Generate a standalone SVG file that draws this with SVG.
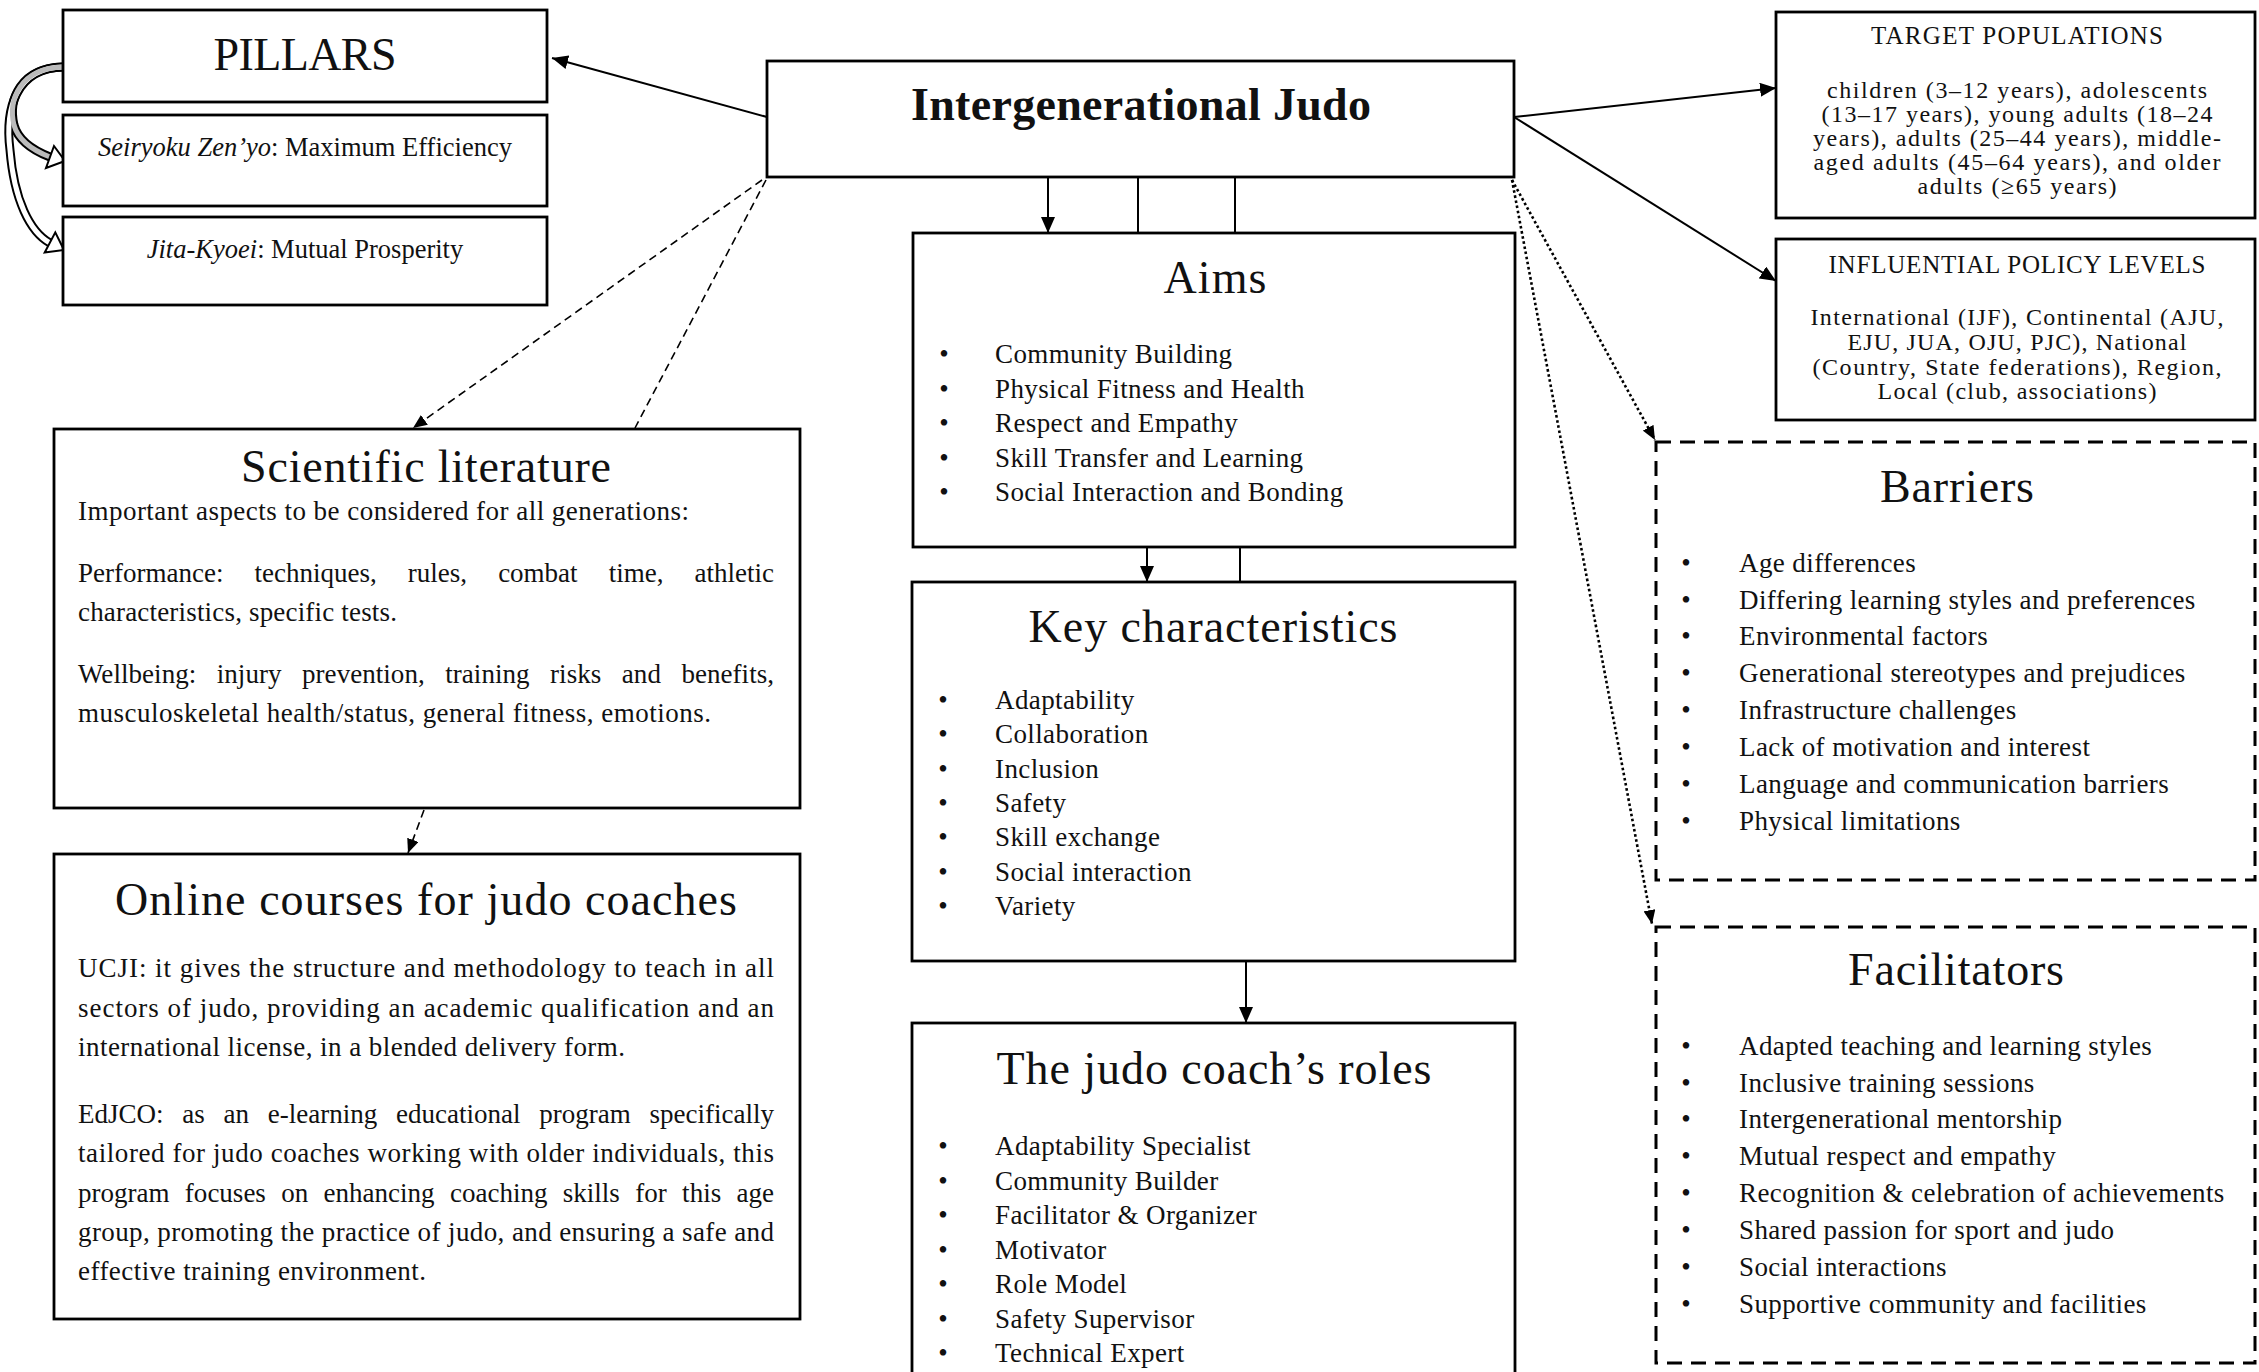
<svg xmlns="http://www.w3.org/2000/svg" width="2259" height="1372" viewBox="0 0 2259 1372">
<defs>
<style>
.box{fill:#fff;stroke:#000;stroke-width:2.8}
.dbox{fill:#fff;stroke:#000;stroke-width:3;stroke-dasharray:15 9}
text{font-family:"Liberation Serif","Times New Roman",serif;fill:#111}
.title{font-size:46px;text-anchor:middle}
.li{font-size:27px;letter-spacing:0.4px}
.bul{font-size:27px;text-anchor:middle}
.p{font-size:27px}
.hd{font-size:25px;text-anchor:middle}
.bd{font-size:24px;text-anchor:middle}
.sub{font-size:26.5px;text-anchor:middle}
.con{fill:none;stroke:#000;stroke-width:2}
.dash{fill:none;stroke:#000;stroke-width:1.6;stroke-dasharray:8 5}
.dot{fill:none;stroke:#000;stroke-width:2.6;stroke-dasharray:2.6 2.6}
</style>
<marker id="ah" viewBox="0 0 16 14" refX="16" refY="7" markerWidth="16" markerHeight="14" markerUnits="userSpaceOnUse" orient="auto"><path d="M0,0 L16,7 L0,14 z" fill="#000"/></marker>
<marker id="ahs" viewBox="0 0 14 12" refX="14" refY="6" markerWidth="14" markerHeight="12" markerUnits="userSpaceOnUse" orient="auto"><path d="M0,0 L14,6 L0,12 z" fill="#000"/></marker>
</defs>
<rect width="2259" height="1372" fill="#fff"/>

<g id="connectors">
<line class="con" x1="767" y1="117" x2="552" y2="58" marker-end="url(#ah)"/>
<line class="con" x1="1514" y1="117" x2="1776" y2="88" marker-end="url(#ah)"/>
<line class="con" x1="1514" y1="117" x2="1776" y2="281" marker-end="url(#ah)"/>
<line class="con" x1="1048" y1="177" x2="1048" y2="233" marker-end="url(#ah)"/>
<line class="con" x1="1138" y1="177" x2="1138" y2="233"/>
<line class="con" x1="1235" y1="177" x2="1235" y2="233"/>
<line class="con" x1="1147" y1="547" x2="1147" y2="582" marker-end="url(#ah)"/>
<line class="con" x1="1240" y1="547" x2="1240" y2="582"/>
<line class="con" x1="1246" y1="961" x2="1246" y2="1023" stroke-width="2.6" marker-end="url(#ah)"/>
<line class="dash" x1="762" y1="180" x2="413" y2="428" marker-end="url(#ahs)"/>
<line class="dash" x1="766" y1="180" x2="635" y2="428"/>
<line class="dash" x1="424" y1="810" x2="408" y2="853" marker-end="url(#ahs)"/>
<line class="dot" x1="1512" y1="180" x2="1655" y2="440" marker-end="url(#ahs)"/>
<line class="dot" x1="1512" y1="180" x2="1652" y2="924" marker-end="url(#ahs)"/>
<g id="pillar-arrows">
<path d="M63,67 C15,68 5,110 10,150 C14,200 30,232 50,243" fill="none" stroke="#000" stroke-width="9"/>
<path d="M63,67 C20,68 8,100 14,125 C18,140 32,150 50,157" fill="none" stroke="#000" stroke-width="9"/>
<path d="M63,67 C15,68 5,110 10,150 C14,200 30,232 50,243" fill="none" stroke="#fff" stroke-width="5"/>
<path d="M63,67 C20,68 8,100 14,125 C18,140 32,150 50,157" fill="none" stroke="#bbb" stroke-width="5"/>
<polygon points="54,146 65,161 46,168" fill="#fff" stroke="#000" stroke-width="2"/>
<polygon points="55.3,232.4 64,250 44.7,252.6" fill="#fff" stroke="#000" stroke-width="2"/>
</g>
</g>

<g id="pillars">
<rect class="box" x="63" y="10" width="484" height="92"/>
<text class="title" x="305" y="70" font-size="44" textLength="183">PILLARS</text>
</g>
<g id="seiryoku">
<rect class="box" x="63" y="115" width="484" height="91"/>
<text class="sub" x="305" y="156"><tspan font-style="italic">Seiryoku Zen’yo</tspan>: Maximum Efficiency</text>
</g>
<g id="jita">
<rect class="box" x="63" y="217" width="484" height="88"/>
<text class="sub" x="305" y="258"><tspan font-style="italic">Jita-Kyoei</tspan>: Mutual Prosperity</text>
</g>

<g id="intergenerational">
<rect class="box" x="767" y="61" width="747" height="116"/>
<text class="title" x="1141" y="120" font-size="45" font-weight="bold" textLength="460">Intergenerational Judo</text>
</g>

<g id="aims">
<rect class="box" x="913" y="233" width="602" height="314"/>
<text class="title" x="1215" y="293" textLength="103">Aims</text>
<text class="bul" x="944" y="363">•</text><text class="li" x="995" y="363">Community Building</text>
<text class="bul" x="944" y="398">•</text><text class="li" x="995" y="398">Physical Fitness and Health</text>
<text class="bul" x="944" y="432">•</text><text class="li" x="995" y="432">Respect and Empathy</text>
<text class="bul" x="944" y="467">•</text><text class="li" x="995" y="467">Skill Transfer and Learning</text>
<text class="bul" x="944" y="501">•</text><text class="li" x="995" y="501">Social Interaction and Bonding</text>
</g>

<g id="key-characteristics">
<rect class="box" x="912" y="582" width="603" height="379"/>
<text class="title" x="1213" y="642" textLength="369">Key characteristics</text>
<text class="bul" x="943" y="709">•</text><text class="li" x="995" y="709">Adaptability</text>
<text class="bul" x="943" y="743">•</text><text class="li" x="995" y="743">Collaboration</text>
<text class="bul" x="943" y="778">•</text><text class="li" x="995" y="778">Inclusion</text>
<text class="bul" x="943" y="812">•</text><text class="li" x="995" y="812">Safety</text>
<text class="bul" x="943" y="846">•</text><text class="li" x="995" y="846">Skill exchange</text>
<text class="bul" x="943" y="881">•</text><text class="li" x="995" y="881">Social interaction</text>
<text class="bul" x="943" y="915">•</text><text class="li" x="995" y="915">Variety</text>
</g>

<g id="coach-roles">
<rect class="box" x="912" y="1023" width="603" height="400"/>
<text class="title" x="1214" y="1084" textLength="435">The judo coach’s roles</text>
<text class="bul" x="943" y="1155">•</text><text class="li" x="995" y="1155">Adaptability Specialist</text>
<text class="bul" x="943" y="1190">•</text><text class="li" x="995" y="1190">Community Builder</text>
<text class="bul" x="943" y="1224">•</text><text class="li" x="995" y="1224">Facilitator &amp; Organizer</text>
<text class="bul" x="943" y="1259">•</text><text class="li" x="995" y="1259">Motivator</text>
<text class="bul" x="943" y="1293">•</text><text class="li" x="995" y="1293">Role Model</text>
<text class="bul" x="943" y="1328">•</text><text class="li" x="995" y="1328">Safety Supervisor</text>
<text class="bul" x="943" y="1362">•</text><text class="li" x="995" y="1362">Technical Expert</text>
</g>

<g id="scientific-literature">
<rect class="box" x="54" y="429" width="746" height="379"/>
<text class="title" x="426" y="482" textLength="370">Scientific literature</text>
<text class="p" x="78" y="520" textLength="611">Important aspects to be considered for all generations:</text>
<text class="p" x="78" y="582" word-spacing="24.3" textLength="696">Performance: techniques, rules, combat time, athletic</text>
<text class="p" x="78" y="621" textLength="319">characteristics, specific tests.</text>
<text class="p" x="78" y="683" word-spacing="13.7" textLength="696">Wellbeing: injury prevention, training risks and benefits,</text>
<text class="p" x="78" y="722" textLength="633">musculoskeletal health/status, general fitness, emotions.</text>
</g>

<g id="online-courses">
<rect class="box" x="54" y="854" width="746" height="465"/>
<text class="title" x="426" y="915" textLength="622">Online courses for judo coaches</text>
<text class="p" x="78" y="977" textLength="696">UCJI: it gives the structure and methodology to teach in all</text>
<text class="p" x="78" y="1017" textLength="696">sectors of judo, providing an academic qualification and an</text>
<text class="p" x="78" y="1056" textLength="547">international license, in a blended delivery form.</text>
<text class="p" x="78" y="1123" word-spacing="12" textLength="696">EdJCO: as an e-learning educational program specifically</text>
<text class="p" x="78" y="1162" textLength="696">tailored for judo coaches working with older individuals, this</text>
<text class="p" x="78" y="1202" word-spacing="8.6" textLength="696">program focuses on enhancing coaching skills for this age</text>
<text class="p" x="78" y="1241" textLength="696">group, promoting the practice of judo, and ensuring a safe and</text>
<text class="p" x="78" y="1280" textLength="348">effective training environment.</text>
</g>

<g id="target-populations">
<rect class="box" x="1776" y="12" width="479" height="206"/>
<text class="hd" x="2017" y="44" textLength="292">TARGET POPULATIONS</text>
<text class="bd" x="2017" y="98" textLength="380">children (3–12 years), adolescents</text>
<text class="bd" x="2017" y="122" textLength="391">(13–17 years), young adults (18–24</text>
<text class="bd" x="2017" y="146" textLength="408">years), adults (25–44 years), middle-</text>
<text class="bd" x="2017" y="170" textLength="407">aged adults (45–64 years), and older</text>
<text class="bd" x="2017" y="194" textLength="199">adults (≥65 years)</text>
</g>

<g id="policy-levels">
<rect class="box" x="1776" y="239" width="479" height="181"/>
<text class="hd" x="2017" y="273" textLength="377">INFLUENTIAL POLICY LEVELS</text>
<text class="bd" x="2017" y="325" textLength="413">International (IJF), Continental (AJU,</text>
<text class="bd" x="2017" y="350" textLength="339">EJU, JUA, OJU, PJC), National</text>
<text class="bd" x="2017" y="375" textLength="409">(Country, State federations), Region,</text>
<text class="bd" x="2017" y="399" textLength="279">Local (club, associations)</text>
</g>

<g id="barriers">
<rect class="dbox" x="1656" y="442" width="599" height="438"/>
<text class="title" x="1957" y="502" textLength="154">Barriers</text>
<text class="bul" x="1686" y="572">•</text><text class="li" x="1739" y="572">Age differences</text>
<text class="bul" x="1686" y="609">•</text><text class="li" x="1739" y="609">Differing learning styles and preferences</text>
<text class="bul" x="1686" y="645">•</text><text class="li" x="1739" y="645">Environmental factors</text>
<text class="bul" x="1686" y="682">•</text><text class="li" x="1739" y="682">Generational stereotypes and prejudices</text>
<text class="bul" x="1686" y="719">•</text><text class="li" x="1739" y="719">Infrastructure challenges</text>
<text class="bul" x="1686" y="756">•</text><text class="li" x="1739" y="756">Lack of motivation and interest</text>
<text class="bul" x="1686" y="793">•</text><text class="li" x="1739" y="793">Language and communication barriers</text>
<text class="bul" x="1686" y="830">•</text><text class="li" x="1739" y="830">Physical limitations</text>
</g>

<g id="facilitators">
<rect class="dbox" x="1656" y="927" width="599" height="436"/>
<text class="title" x="1956" y="985" textLength="216">Facilitators</text>
<text class="bul" x="1686" y="1055">•</text><text class="li" x="1739" y="1055">Adapted teaching and learning styles</text>
<text class="bul" x="1686" y="1092">•</text><text class="li" x="1739" y="1092">Inclusive training sessions</text>
<text class="bul" x="1686" y="1128">•</text><text class="li" x="1739" y="1128">Intergenerational mentorship</text>
<text class="bul" x="1686" y="1165">•</text><text class="li" x="1739" y="1165">Mutual respect and empathy</text>
<text class="bul" x="1686" y="1202">•</text><text class="li" x="1739" y="1202">Recognition &amp; celebration of achievements</text>
<text class="bul" x="1686" y="1239">•</text><text class="li" x="1739" y="1239">Shared passion for sport and judo</text>
<text class="bul" x="1686" y="1276">•</text><text class="li" x="1739" y="1276">Social interactions</text>
<text class="bul" x="1686" y="1313">•</text><text class="li" x="1739" y="1313">Supportive community and facilities</text>
</g>
</svg>
